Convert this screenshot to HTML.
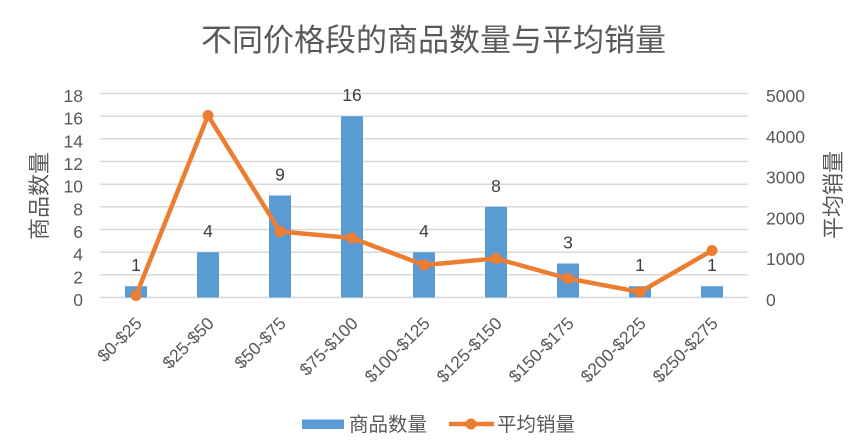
<!DOCTYPE html>
<html><head><meta charset="utf-8"><style>
html,body{margin:0;padding:0;background:#fff;}
svg{display:block;}
text{font-family:"Liberation Sans","Noto Sans CJK SC",sans-serif;}
</style></head><body>
<svg width="867" height="447" viewBox="0 0 867 447" xmlns="http://www.w3.org/2000/svg">
<rect width="867" height="447" fill="#fff"/>
<text x="433.5" y="51" font-size="31" fill="#595959" text-anchor="middle" style="font-family:'Noto Sans CJK SC',sans-serif">不同价格段的商品数量与平均销量</text>
<g stroke="#D9D9D9" stroke-width="1.5">
<line x1="100" x2="748" y1="93.5" y2="93.5"/>
<line x1="100" x2="748" y1="116.2" y2="116.2"/>
<line x1="100" x2="748" y1="138.8" y2="138.8"/>
<line x1="100" x2="748" y1="161.5" y2="161.5"/>
<line x1="100" x2="748" y1="184.2" y2="184.2"/>
<line x1="100" x2="748" y1="206.8" y2="206.8"/>
<line x1="100" x2="748" y1="229.5" y2="229.5"/>
<line x1="100" x2="748" y1="252.2" y2="252.2"/>
<line x1="100" x2="748" y1="274.8" y2="274.8"/>
<line x1="100" x2="748" y1="297.5" y2="297.5"/>
</g>
<g fill="#595959" font-size="17.5" text-anchor="end">
<text x="83" y="102">18</text>
<text x="83" y="124.7">16</text>
<text x="83" y="147.3">14</text>
<text x="83" y="170">12</text>
<text x="83" y="192.7">10</text>
<text x="83" y="215.3">8</text>
<text x="83" y="238">6</text>
<text x="83" y="260.7">4</text>
<text x="83" y="283.3">2</text>
<text x="83" y="306">0</text>
</g>
<g fill="#595959" font-size="17.5" text-anchor="start">
<text x="766" y="102">5000</text>
<text x="766" y="142.8">4000</text>
<text x="766" y="183.6">3000</text>
<text x="766" y="224.4">2000</text>
<text x="766" y="265.2">1000</text>
<text x="766" y="306">0</text>
</g>
<text transform="translate(47,196) rotate(-90)" font-size="22" fill="#595959" text-anchor="middle" style="font-family:'Noto Sans CJK SC',sans-serif">商品数量</text>
<text transform="translate(841,195) rotate(-90)" font-size="22" fill="#595959" text-anchor="middle" style="font-family:'Noto Sans CJK SC',sans-serif">平均销量</text>
<g fill="#5B9BD5">
<rect x="125" y="286.2" width="22" height="11.3"/>
<rect x="197" y="252.2" width="22" height="45.3"/>
<rect x="269" y="195.5" width="22" height="102"/>
<rect x="341" y="116.2" width="22" height="181.3"/>
<rect x="413" y="252.2" width="22" height="45.3"/>
<rect x="485" y="206.8" width="22" height="90.7"/>
<rect x="557" y="263.5" width="22" height="34"/>
<rect x="629" y="286.2" width="22" height="11.3"/>
<rect x="701" y="286.2" width="22" height="11.3"/>
</g>
<g fill="#404040" font-size="17.5" text-anchor="middle">
<text x="136" y="271">1</text>
<text x="208" y="237">4</text>
<text x="280" y="180.5">9</text>
<text x="352" y="101">16</text>
<text x="424" y="237">4</text>
<text x="496" y="191.8">8</text>
<text x="568" y="248.5">3</text>
<text x="640" y="271">1</text>
<text x="712" y="271">1</text>
</g>
<polyline fill="none" stroke="#ED7D31" stroke-width="4.5" stroke-linejoin="round" stroke-linecap="round" points="136,295.5 208,115.5 280,231.5 352,238 424,265 496,258.5 568,278.5 640,292 712,250.5"/>
<g fill="#ED7D31">
<circle cx="136" cy="295.5" r="5.5"/>
<circle cx="208" cy="115.5" r="5.5"/>
<circle cx="280" cy="231.5" r="5.5"/>
<circle cx="352" cy="238" r="5.5"/>
<circle cx="424" cy="265" r="5.5"/>
<circle cx="496" cy="258.5" r="5.5"/>
<circle cx="568" cy="278.5" r="5.5"/>
<circle cx="640" cy="292" r="5.5"/>
<circle cx="712" cy="250.5" r="5.5"/>
</g>
<g fill="#595959" font-size="17.5" text-anchor="end">
<text transform="translate(143,324.5) rotate(-45)">$0-$25</text>
<text transform="translate(215,324.5) rotate(-45)">$25-$50</text>
<text transform="translate(287,324.5) rotate(-45)">$50-$75</text>
<text transform="translate(359,324.5) rotate(-45)">$75-$100</text>
<text transform="translate(431,324.5) rotate(-45)">$100-$125</text>
<text transform="translate(503,324.5) rotate(-45)">$125-$150</text>
<text transform="translate(575,324.5) rotate(-45)">$150-$175</text>
<text transform="translate(647,324.5) rotate(-45)">$200-$225</text>
<text transform="translate(719,324.5) rotate(-45)">$250-$275</text>
</g>
<rect x="302" y="419.5" width="42" height="9.5" fill="#5B9BD5"/>
<text x="349" y="431" font-size="19.5" fill="#595959" style="font-family:'Noto Sans CJK SC',sans-serif">商品数量</text>
<line x1="449" x2="494" y1="424" y2="424" stroke="#ED7D31" stroke-width="4.5"/>
<circle cx="471" cy="424" r="5.5" fill="#ED7D31"/>
<text x="497" y="431" font-size="19.5" fill="#595959" style="font-family:'Noto Sans CJK SC',sans-serif">平均销量</text>
</svg>
</body></html>
